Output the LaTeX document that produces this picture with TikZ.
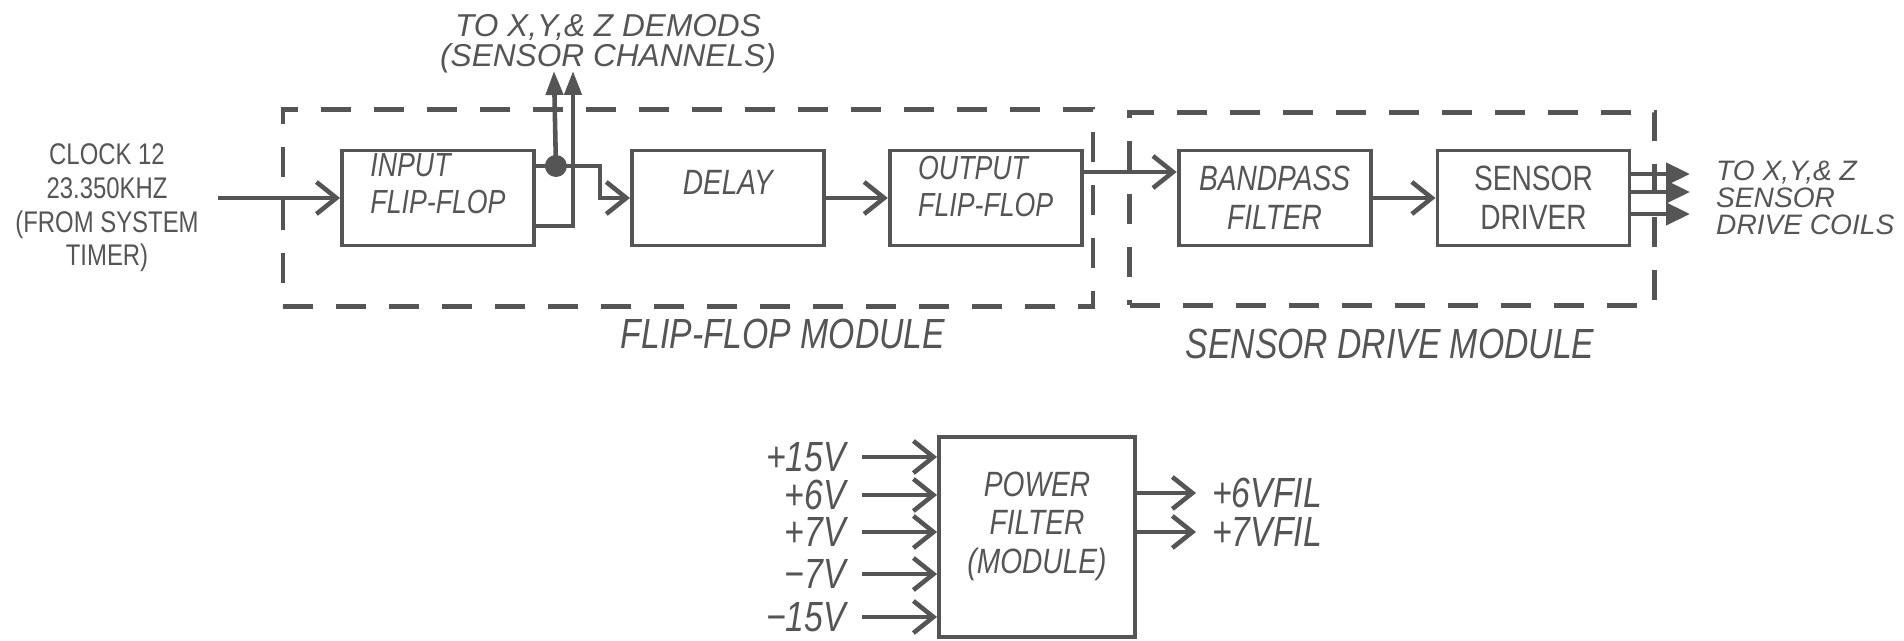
\documentclass[tikz,border=0pt]{standalone}
\usepackage{fontspec}
\setmainfont{Liberation Sans}
\newfontfamily\narrowsf{Liberation Sans}[FakeStretch=0.8]
\usetikzlibrary{positioning,arrows.meta,calc}
\definecolor{ink}{HTML}{555555}
\tikzset{
  block/.style={rectangle, draw=ink, line width=1.1pt, minimum width=1.92cm,
                minimum height=0.95cm, align=center, text=ink,
                font=\narrowsf\fontsize{10}{11}\selectfont},
  ffblock/.style={block, align=left, font=\narrowsf\itshape\fontsize{9.5}{10.5}\selectfont},
  module/.style={rectangle, draw=ink, line width=1.3pt, dash pattern=on 3mm off 2.3mm},
  note/.style={text=ink, align=center, inner sep=1pt, font=\itshape\fontsize{9}{8.4}\selectfont},
  clocknote/.style={note, font=\narrowsf\fontsize{8.5}{9.6}\selectfont},
  coilnote/.style={note, align=left, font=\itshape\fontsize{8}{7.6}\selectfont},
  modlabel/.style={text=ink, font=\narrowsf\itshape\fontsize{12}{14}\selectfont},
  volt/.style={text=ink, inner sep=1pt, font=\narrowsf\itshape\fontsize{12}{14}\selectfont},
  flow/.style={-{Straight Barb[length=2mm,width=3.2mm]}, draw=ink, line width=1.3pt},
  busflow/.style={-{Triangle[length=2.4mm,width=2.2mm]}, draw=ink, line width=1.3pt},
  tapflow/.style={-{Triangle[length=2.4mm,width=1.7mm]}, draw=ink, line width=1.3pt}
}

\begin{document}
\begin{tikzpicture}[node distance=9.4mm]
\useasboundingbox (0,0) rectangle (19.04,6.41);
% module outlines
\node[module, minimum width=8.10cm, minimum height=1.97cm] (ffmod) at (6.88,4.33) {};
\node[module, minimum width=5.25cm, minimum height=1.93cm] (drvmod) at (13.92,4.32) {};
\node[modlabel] (fflabel) at (7.83,3.07) {FLIP-FLOP MODULE};
\node[modlabel] (drvlabel) at (13.90,2.97) {SENSOR DRIVE MODULE};

% signal chain
\node[ffblock, text height=8.9pt, text depth=0pt] (inff) at (4.38,4.43) {INPUT\\FLIP-FLOP};
\node[block, right=of inff, text height=0pt, text depth=2pt,
      font=\narrowsf\itshape\fontsize{10}{11}\selectfont] (delay) {DELAY};
\node[ffblock, right=6.2mm of delay, text height=10.7pt, text depth=0pt] (outff) {OUTPUT\\FLIP-FLOP};
\node[block, right=9.3mm of outff, font=\narrowsf\itshape\fontsize{10}{11}\selectfont] (bpf) {BANDPASS\\FILTER};
\node[block, right=6.3mm of bpf] (driver) {SENSOR\\DRIVER};

\node[clocknote] (clock) at (1.07,4.33) {CLOCK 12\\23.350KHZ\\(FROM SYSTEM\\TIMER)};
\node[note] (demods) at (6.08,5.97) {TO X,Y,\& Z DEMODS\\(SENSOR CHANNELS)};
\node[coilnote, anchor=west] (coils) at (17.12,4.43) {TO X,Y,\& Z\\SENSOR\\DRIVE COILS};

\coordinate (tapa) at ([xshift=2mm,yshift=3.2mm]inff.east);
\coordinate (tipa) at (5.54,5.70);
\coordinate (tipb) at (5.73,5.70);

\draw[flow, shorten <=1.5mm] (clock.east |- inff.west) -- (inff.west);
\draw[flow] ([yshift=3.2mm]inff.east) -| ([xshift=-3mm]delay.west) -- (delay.west);
\draw[tapflow] (tapa) -- (tipa);
\fill[ink] (tapa) circle (1.1mm);
\draw[tapflow] ([yshift=-2.8mm]inff.east) -| (tipb);
\draw[flow] (delay.east) -- (outff.west);
\draw[flow] ([yshift=2.6mm]outff.east) -- ([yshift=2.6mm]outff.east -| bpf.west);
\draw[flow] (bpf) -- (driver);
\foreach \dy in {2.4,0.6,-1.6}
  \draw[busflow, shorten >=2.2mm] ([yshift=\dy mm]driver.east) -- ([yshift=\dy mm]driver.east -| coils.west);

% power filter
\node[block, minimum width=1.96cm, minimum height=2.00cm, text height=20.8pt, text depth=0pt,
      font=\narrowsf\itshape\fontsize{10}{11}\selectfont] (pfilt) at (10.37,1.04) {POWER\\FILTER\\(MODULE)};
\foreach \v/\y [count=\i] in {+15V/1.84, +6V/1.46, +7V/1.09, −7V/0.67, −15V/0.24} {
  \node[volt, anchor=east] (vin\i) at (8.50,\y) {\v};
  \draw[flow, shorten <=1.2mm] (vin\i.east) -- (vin\i.east -| pfilt.west);
}
\node[volt, anchor=west] (vout1) at (12.08,1.48) {+6VFIL};
\node[volt, anchor=west] (vout2) at (12.08,1.09) {+7VFIL};
\draw[flow, shorten >=1.2mm] (pfilt.east |- vout1) -- (vout1.west);
\draw[flow, shorten >=1.2mm] (pfilt.east |- vout2) -- (vout2.west);
\end{tikzpicture}
\end{document}
